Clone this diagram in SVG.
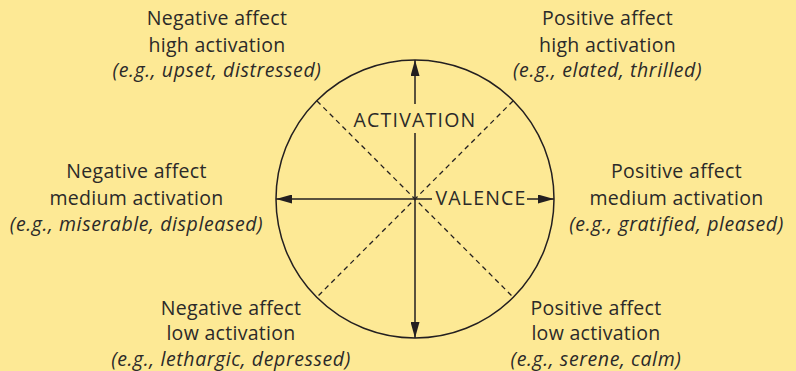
<svg xmlns="http://www.w3.org/2000/svg" width="796" height="371" viewBox="0 0 796 371">
<style>
text{font-family:"Open Sans","Noto Sans","DejaVu Sans",sans-serif;font-size:19.5px;fill:#2b2a29;text-anchor:middle;letter-spacing:0.3px}
.it{font-style:italic;letter-spacing:0.6px}
.ax{letter-spacing:1.2px}
.line{stroke:#231f20;stroke-width:1.5;fill:none}
.dash{stroke:#231f20;stroke-width:1.3;stroke-dasharray:5 4;fill:none}
</style>
<defs>
<marker id="arr" viewBox="0 0 16 9" refX="16" refY="4.5" markerWidth="16" markerHeight="9" markerUnits="userSpaceOnUse" orient="auto">
<path d="M0,0 L16,4.5 L0,9 Z" fill="#231f20"/>
</marker>
</defs>
<rect width="796" height="371" fill="#fde995"/>
<g id="circle">
<circle cx="415" cy="199" r="139" class="line"/>
</g>
<g id="connectors">
<line x1="317" y1="101" x2="513" y2="297" class="dash"/>
<line x1="513" y1="101" x2="317" y2="297" class="dash"/>
<line x1="415" y1="104" x2="415" y2="60" class="line" marker-end="url(#arr)"/>
<line x1="415" y1="133" x2="415" y2="338" class="line" marker-end="url(#arr)"/>
<line x1="432" y1="199" x2="276" y2="199" class="line" marker-end="url(#arr)"/>
<line x1="527" y1="199" x2="554" y2="199" class="line" marker-end="url(#arr)"/>
</g>
<g id="axis-activation"><text x="415" y="127" class="ax">ACTIVATION</text></g>
<g id="axis-valence"><text x="481" y="205" class="ax">VALENCE</text></g>
<g id="neg-high">
<text x="217" y="25">Negative affect</text>
<text x="217" y="51.5">high activation</text>
<text x="217" y="77" class="it">(e.g., upset, distressed)</text>
</g>
<g id="pos-high">
<text x="607.5" y="25">Positive affect</text>
<text x="607.5" y="51.5">high activation</text>
<text x="607.5" y="77" class="it">(e.g., elated, thrilled)</text>
</g>
<g id="neg-medium">
<text x="136.5" y="178">Negative affect</text>
<text x="136.5" y="204.5">medium activation</text>
<text x="136.5" y="230.5" class="it">(e.g., miserable, displeased)</text>
</g>
<g id="pos-medium">
<text x="676.5" y="178">Positive affect</text>
<text x="676.5" y="204.5">medium activation</text>
<text x="676.5" y="230.5" class="it">(e.g., gratified, pleased)</text>
</g>
<g id="neg-low">
<text x="231" y="314.5">Negative affect</text>
<text x="231" y="340">low activation</text>
<text x="231" y="365.5" class="it">(e.g., lethargic, depressed)</text>
</g>
<g id="pos-low">
<text x="596" y="314.5">Positive affect</text>
<text x="596" y="340">low activation</text>
<text x="596" y="365.5" class="it">(e.g., serene, calm)</text>
</g>
</svg>
